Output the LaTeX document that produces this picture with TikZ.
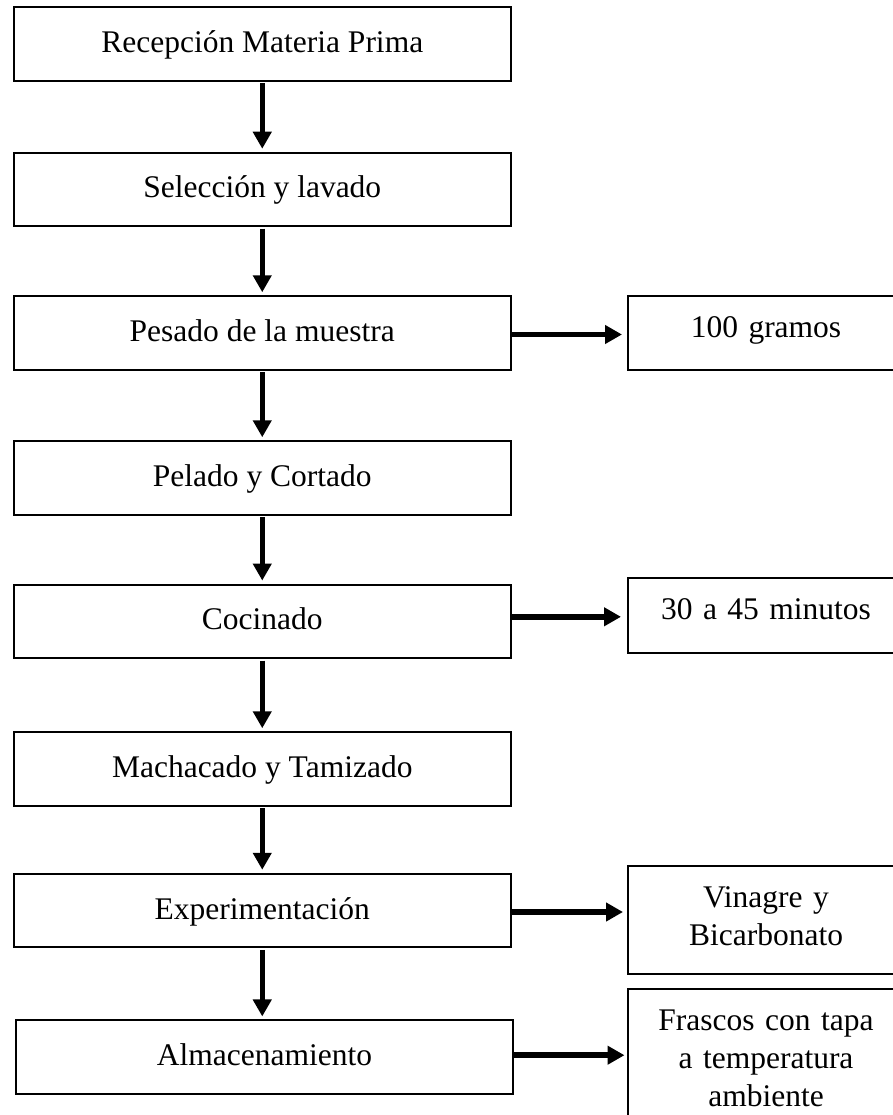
\documentclass[tikz,border=0pt]{standalone}
\usepackage{fontspec}
\setmainfont{Liberation Serif}
\usetikzlibrary{arrows.meta,calc}

\tikzset{
  stepbox/.style={draw, line width=2pt, inner sep=0pt,
    minimum width=497.5pt, minimum height=73.5pt,
    text height=24pt, text depth=7pt,
    font=\fontsize{31.5}{38}\selectfont},
  notebox/.style={draw, line width=2pt, inner xsep=0pt, inner ysep=0pt,
    anchor=north, text width=276pt, align=center,
    text height=41pt,
    font=\fontsize{31.5}{38}\selectfont},
  flow/.style={line width=5.5pt, -{Triangle[length=17pt,width=18pt]}},
}

\begin{document}
\begin{tikzpicture}[x=1pt, y=-1pt]
  \useasboundingbox (0,0) rectangle (893,1115);
  \clip (0,0) rectangle (893,1115);

  % main process steps
  \node[stepbox] (b1) at (262.25,44.25)  {Recepción Materia Prima};
  \node[stepbox] (b2) at (262.25,189.5)  {Selección y lavado};
  \node[stepbox] (b3) at (262.25,333)    {Pesado de la muestra};
  \node[stepbox] (b4) at (262.25,478)    {Pelado y Cortado};
  \node[stepbox] (b5) at (262.25,621.3)  {Cocinado};
  \node[stepbox] (b6) at (262.25,769)    {Machacado y Tamizado};
  \node[stepbox] (b7) at (262.25,910.5)  {Experimentación};
  \node[stepbox] (b8) at (264.5,1057.2)  {Almacenamiento};

  % side notes
  \node[notebox, text depth=33pt]   (r1) at (766,295)   {100 gramos};
  \node[notebox, text depth=33.4pt] (r2) at (766,577.3) {30 a 45 minutos};
  \node[notebox, text depth=67pt]   (r3) at (766,865)   {Vinagre y\\Bicarbonato};
  \node[notebox, text depth=100pt]  (r4) at (766,988.3) {Frascos con tapa\\a temperatura\\ambiente};

  % vertical flow
  \foreach \a/\b in {b1/b2,b2/b3,b3/b4,b4/b5,b5/b6,b6/b7,b7/b8}
    \draw[flow, shorten <=1.5pt, shorten >=3pt] (\a.south) -- (\a.south |- \b.north);

  % side arrows
  \draw[flow, shorten >=5pt] ($(b3.east)+(0,1.5)$)  -- ($(b3.east -| r1.west)+(0,1.5)$);
  \draw[flow, shorten >=6pt] ($(b5.east)+(0,-4.5)$) -- ($(b5.east -| r2.west)+(0,-4.5)$);
  \draw[flow, shorten >=4pt] ($(b7.east)+(0,1.5)$)  -- ($(b7.east -| r3.west)+(0,1.5)$);
  \draw[flow, shorten >=2.5pt] ($(b8.east)+(0,-2)$) -- ($(b8.east -| r4.west)+(0,-2)$);
\end{tikzpicture}
\end{document}
